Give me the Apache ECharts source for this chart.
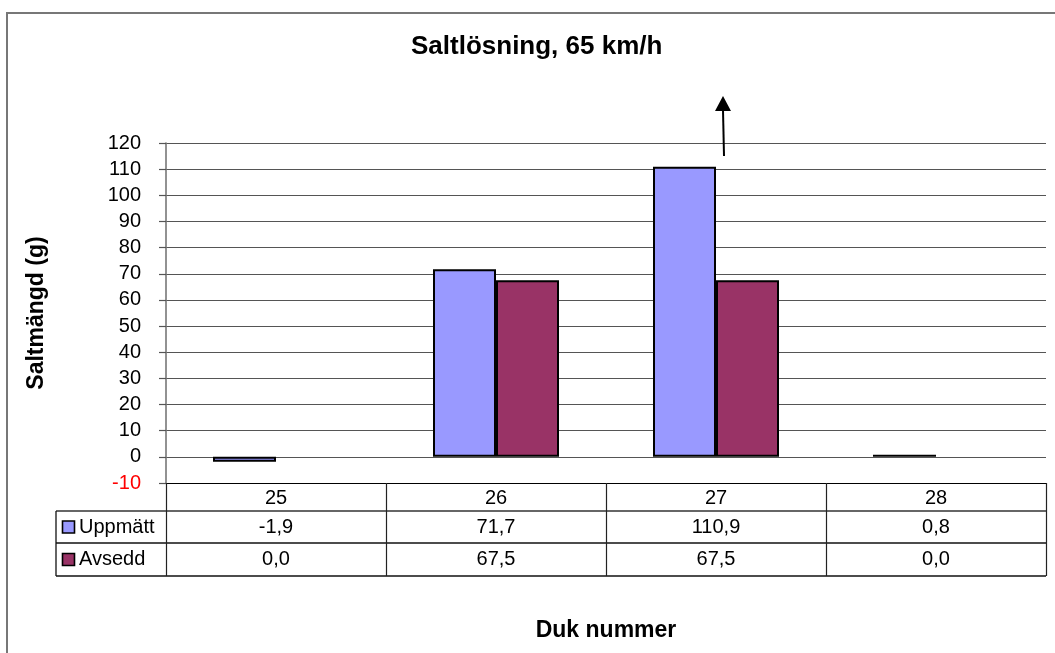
<!DOCTYPE html>
<html><head><meta charset="utf-8">
<script src="https://cdn.jsdelivr.net/npm/echarts@6/dist/echarts.min.js"></script>
<style>html,body{margin:0;padding:0;background:#fff}#c{width:1055px;height:653px}</style>
</head><body><div id="c"></div>
<script>
// ---- data ----
const categories = ['25', '26', '27', '28'];
const uppmatt = [-1.9, 71.7, 110.9, 0.8];
const avsedd = [0.0, 67.5, 67.5, 0.0];
const seriesNames = ['Uppmätt', 'Avsedd'];
const seriesColors = ['#9999FF', '#993366'];
const yMin = -10, yMax = 120, yStep = 10;
const arrowFrom = 115, arrowTo = 138; // annotation arrow above category 27

// ---- layout ----
const FONT = "'Liberation Sans', Arial, sans-serif";
const gridL = 166, gridR = 9, gridT = 143, gridB = 170;
const tableLeft = 56;
const rowBottoms = [28, 60, 93]; // offsets below the axis line

const chart = echarts.init(document.getElementById('c'), null, {renderer: 'canvas'});
const fmt = v => v.toFixed(1).replace('.', ',');
// zero-height bars are invisible in the reference
const barData = arr => arr.map(v => (v === 0 ? {value: v, itemStyle: {opacity: 0, borderWidth: 0}} : v));

const option = {
  animation: false,
  backgroundColor: '#fff',
  title: {
    text: 'Saltlösning, 65 km/h', left: 411, top: 34, padding: 0,
    textStyle: {fontFamily: FONT, fontSize: 26, fontWeight: 'bold', color: '#000'}
  },
  grid: {left: gridL, right: gridR, top: gridT, bottom: gridB, containLabel: false},
  xAxis: {
    type: 'category', data: categories,
    name: 'Duk nummer', nameLocation: 'middle', nameGap: 136,
    nameTextStyle: {fontFamily: FONT, fontSize: 23, fontWeight: 'bold', color: '#000'},
    axisLine: {onZero: false, lineStyle: {color: '#000', width: 1.2}},
    axisTick: {show: true, length: rowBottoms[2], lineStyle: {color: '#222', width: 1.2}},
    axisLabel: {fontFamily: FONT, fontSize: 20, color: '#000', margin: 5}
  },
  yAxis: {
    type: 'value', min: yMin, max: yMax, interval: yStep,
    name: 'Saltmängd (g)', nameLocation: 'middle', nameRotate: 90, nameGap: 118,
    nameTextStyle: {fontFamily: FONT, fontSize: 23, fontWeight: 'bold', color: '#000'},
    axisLine: {show: true, lineStyle: {color: '#777', width: 1.6}},
    axisTick: {show: true, length: 7, lineStyle: {color: '#555', width: 1.2}},
    axisLabel: {fontFamily: FONT, fontSize: 20, margin: 25,
      color: v => (Number(v) === -10 ? '#FF0000' : '#000')},
    splitLine: {show: true, lineStyle: {color: '#555', width: 1.2}}
  },
  series: [
    {name: seriesNames[0], type: 'bar', data: barData(uppmatt), barWidth: 63, barGap: '0%',
     itemStyle: {color: seriesColors[0], borderColor: '#000', borderWidth: 2}},
    {name: seriesNames[1], type: 'bar', data: barData(avsedd), barWidth: 63, barGap: '0%',
     itemStyle: {color: seriesColors[1], borderColor: '#000', borderWidth: 2}}
  ]
};
chart.setOption(option);

// ---- data table, frame, arrow (positions derived from the axes) ----
const W = 1055;
const xc = categories.map(c => chart.convertToPixel({xAxisIndex: 0}, c));
const py = v => chart.convertToPixel({yAxisIndex: 0}, v);
const axisY = py(yMin);
const rightX = W - gridR;
const rows = rowBottoms.map(o => axisY + o);
const g = [];
// outer frame
g.push({type: 'rect', shape: {x: 7, y: 13, width: 1200, height: 800},
  style: {fill: null, stroke: '#777', lineWidth: 2}, silent: true});
// table horizontal lines
rows.forEach((y, i) => g.push({type: 'line', shape: {x1: tableLeft, y1: y, x2: rightX, y2: y},
  style: {stroke: i === 0 ? '#666' : '#111', lineWidth: i === 0 ? 1.8 : 1.3}}));
// table left border
g.push({type: 'line', shape: {x1: tableLeft, y1: rows[0], x2: tableLeft, y2: rows[2]},
  style: {stroke: '#111', lineWidth: 1.3}});
// legend keys & values
const seriesData = [uppmatt, avsedd];
seriesData.forEach((arr, si) => {
  const cy = (rows[si] + rows[si + 1]) / 2;
  g.push({type: 'rect', shape: {x: 62.5, y: cy - 6, width: 12, height: 12},
    style: {fill: seriesColors[si], stroke: '#000', lineWidth: 1.6}});
  g.push({type: 'text', x: 79, y: cy, style: {text: seriesNames[si], font: '20px ' + FONT,
    fill: '#000', textVerticalAlign: 'middle', textAlign: 'left', verticalAlign: 'middle', align: 'left'}});
  arr.forEach((v, ci) => g.push({type: 'text', x: xc[ci], y: cy,
    style: {text: fmt(v), font: '20px ' + FONT, fill: '#000', align: 'center', verticalAlign: 'middle',
      textAlign: 'center', textVerticalAlign: 'middle'}}));
});
// arrow annotation
const ax = xc[2] + 7, ay1 = py(arrowFrom), ay2 = py(arrowTo);
g.push({type: 'line', shape: {x1: ax + 1, y1: ay1, x2: ax, y2: ay2 + 14},
  style: {stroke: '#000', lineWidth: 2}});
g.push({type: 'polygon', shape: {points: [[ax - 8, ay2 + 15], [ax + 8, ay2 + 15], [ax, ay2]]},
  style: {fill: '#000'}});
chart.setOption({graphic: g});
</script></body></html>
